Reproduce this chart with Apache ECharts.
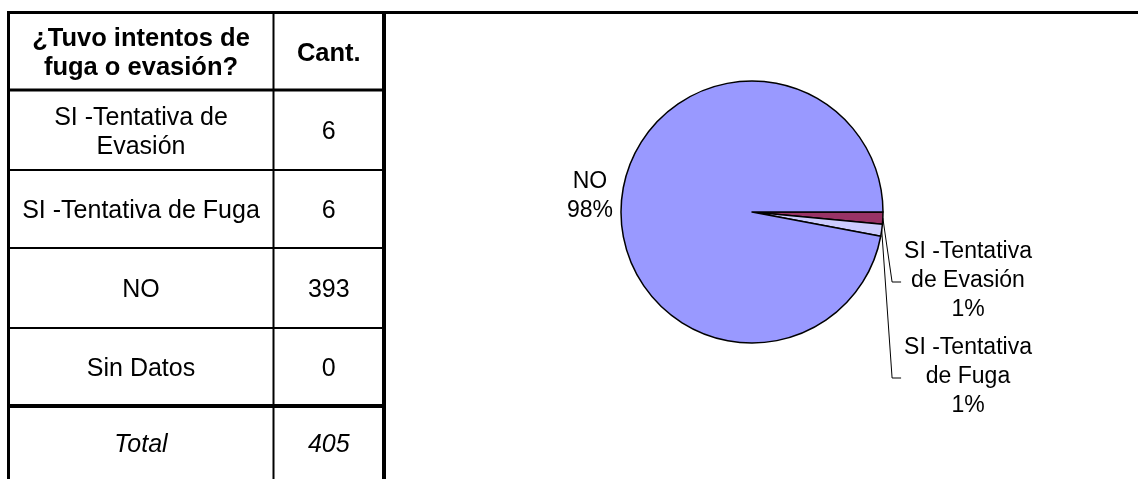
<!DOCTYPE html>
<html><head><meta charset="utf-8">
<script src="https://cdn.jsdelivr.net/npm/echarts@6/dist/echarts.min.js"></script>
<style>html,body{margin:0;padding:0;background:#fff}#c{width:1138px;height:479px}</style>
</head><body><div id="c"></div>
<script>
// ---- data ----
const tableHeader = ['¿Tuvo intentos de\nfuga o evasión?', 'Cant.'];
const categories = ['SI -Tentativa de Evasión', 'SI -Tentativa de Fuga', 'NO', 'Sin Datos'];
const tableLabels = ['SI -Tentativa de\nEvasión', 'SI -Tentativa de Fuga', 'NO', 'Sin Datos'];
const counts = [6, 6, 393, 0];
const totalLabel = 'Total';
const totalCount = 405;
const pieLabelNames = ['SI -Tentativa\nde Evasión', 'SI -Tentativa\nde Fuga', 'NO', 'Sin Datos'];
const piePercents = ['1%', '1%', '98%', '0%'];
const sliceColors = ['#993366', '#CCCCFF', '#9999FF', '#FFFFCC'];

// ---- layout ----
const FONT = 'Arial, "Liberation Sans", Helvetica, sans-serif';
const colX = [8.5, 273.5, 384];
const rowY = [12.5, 90, 170, 248, 328, 406, 479];
const rowLineW = [3, 3, 2, 2, 2, 4];
const labelPos = { 0: [968, 281], 1: [968, 377], 2: [590, 196] };

const graphics = [];
graphics.push({ type: 'line', shape: { x1: 7, y1: rowY[0], x2: 1138, y2: rowY[0] }, style: { stroke: '#000', lineWidth: 3 } });
for (let i = 1; i < rowY.length - 1; i++) {
  graphics.push({ type: 'line', shape: { x1: colX[0], y1: rowY[i], x2: colX[2] + 2, y2: rowY[i] }, style: { stroke: '#000', lineWidth: rowLineW[i] } });
}
graphics.push({ type: 'line', shape: { x1: colX[0], y1: rowY[0], x2: colX[0], y2: 479 }, style: { stroke: '#000', lineWidth: 3 } });
graphics.push({ type: 'line', shape: { x1: colX[1], y1: rowY[0], x2: colX[1], y2: 479 }, style: { stroke: '#000', lineWidth: 2 } });
graphics.push({ type: 'line', shape: { x1: colX[2], y1: rowY[0], x2: colX[2], y2: 479 }, style: { stroke: '#000', lineWidth: 4 } });

function cellText(text, col, row, opts) {
  const cx = (colX[col] + colX[col + 1]) / 2;
  const cy = (rowY[row] + rowY[row + 1]) / 2 + 2.5;
  graphics.push({
    type: 'text', x: cx, y: cy,
    style: Object.assign({ text: text, fill: '#000', font: '25px ' + FONT, align: 'center', verticalAlign: 'middle', lineHeight: 29 }, opts || {})
  });
}
cellText(tableHeader[0], 0, 0, { font: 'bold 25.5px ' + FONT });
cellText(tableHeader[1], 1, 0, { font: 'bold 25.5px ' + FONT });
for (let i = 0; i < categories.length; i++) {
  cellText(tableLabels[i], 0, i + 1);
  cellText(String(counts[i]), 1, i + 1);
}
cellText(totalLabel, 0, 5, { font: 'italic 25px ' + FONT });
cellText(String(totalCount), 1, 5, { font: 'italic 25px ' + FONT });

const pieData = categories.map((c, i) => ({
  name: c, value: counts[i], idx: i,
  itemStyle: { color: sliceColors[i] },
  labelLine: { show: c !== 'NO' }
})).filter(d => d.value > 0);

const chart = echarts.init(document.getElementById('c'), null, { renderer: 'canvas' });
chart.setOption({
  animation: false,
  backgroundColor: '#fff',
  graphic: graphics,
  series: [{
    type: 'pie',
    center: [752, 212],
    radius: 131,
    startAngle: 0,
    clockwise: true,
    avoidLabelOverlap: false,
    data: pieData,
    itemStyle: { borderColor: '#000', borderWidth: 1.5 },
    emphasis: { disabled: true },
    label: {
      show: true,
      formatter: p => pieLabelNames[p.data.idx] + '\n' + piePercents[p.data.idx],
      fontFamily: FONT, fontSize: 23, lineHeight: 29, color: '#000', align: 'center'
    },
    labelLine: { show: true, length: 10, length2: 10, smooth: false, lineStyle: { color: '#000', width: 1 } },
    labelLayout: function (params) {
      const i = pieData[params.dataIndex].idx;
      const pos = labelPos[i];
      if (!pos) return {};
      const out = { x: pos[0], y: pos[1], align: 'center', verticalAlign: 'middle' };
      if (params.labelLinePoints && categories[i] !== 'NO') {
        const left = pos[0] - params.labelRect.width / 2;
        const ly = pos[1] + 1;
        out.labelLinePoints = [params.labelLinePoints[0], [left - 12, ly], [left - 3, ly]];
      }
      return out;
    }
  }]
});
</script></body></html>
